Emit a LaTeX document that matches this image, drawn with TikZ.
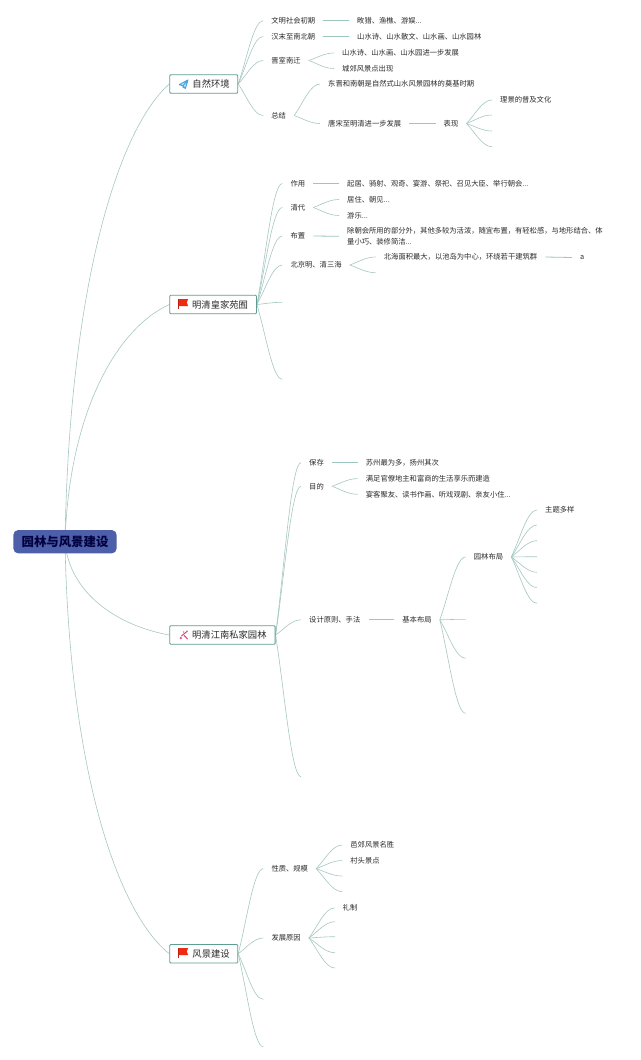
\documentclass[tikz,border=0pt]{standalone}
\usepackage{fontspec}
\setmainfont{Noto Sans CJK SC}
\usetikzlibrary{calc}
\pgfdeclarelayer{bg}\pgfdeclarelayer{lines}\pgfsetlayers{bg,lines,main}
\definecolor{linec}{HTML}{A6C8C2}
\definecolor{darkline}{HTML}{9CC6BE}
\definecolor{boxc}{HTML}{5F9E92}
\definecolor{txt}{HTML}{2B2B2B}
\definecolor{rootfill}{HTML}{4C5FA8}
\definecolor{flagred}{HTML}{EE2A12}
\definecolor{planeblue}{HTML}{45A5DC}
\definecolor{pinkc}{HTML}{E0457B}
\tikzset{
  x=1pt,y=-1pt,
  leaf/.style={anchor=west,inner xsep=8pt,inner ysep=1pt,text=txt,align=left,font=\fontsize{7.3}{10.7}\selectfont},
  topic/.style={anchor=west,draw=boxc,line width=0.9pt,fill=white,rounded corners=1pt,minimum height=18.5pt,inner ysep=0pt,inner xsep=0pt,text=txt,font=\fontsize{9.3}{11}\selectfont},
  rootbox/.style={fill=rootfill,rounded corners=5pt,minimum width=103.4pt,minimum height=23.4pt,inner sep=0pt,text=black!75!blue,font=\fontsize{12.4}{14}\selectfont\bfseries},
  branch/.style={to path={let \p1=(\tikztostart),\p2=(\tikztotarget) in .. controls ({\x1+0.35*(\x2-\x1)},{\y1+0.4*(\y2-\y1)}) and ({\x1+0.62*(\x2-\x1)},\y2) .. (\p2)}},
  rootbranch/.style={to path={let \p1=(\tikztostart),\p2=(\tikztotarget) in .. controls ({\x1+0.04*(\x2-\x1)},{\y1+0.55*(\y2-\y1)}) and ({\x1+0.5*(\x2-\x1)},{\y1+0.9*(\y2-\y1)}) .. (\p2)}},
  conn/.style={draw=linec,line width=0.6pt},
  flat/.style={draw=darkline,line width=0.8pt},
  flagicon/.pic={
    \fill[flagred] (0.6,0) -- (10,0) -- (8.6,3.4) -- (10,7.2) -- (0.6,7.2) -- cycle;
    \draw[flagred!80!black,line width=0.8pt] (0.3,0) -- (0.3,10);
  }
}
\begin{document}
\begin{tikzpicture}
\begin{pgfonlayer}{bg}
\fill[white] (0,0) rectangle (640,1060);
\end{pgfonlayer}
\useasboundingbox (0,0) rectangle (640,1060);

% root and topics
\node[rootbox] (root) at (65,541.7) {园林与风景建设};
\node[topic,minimum width=68pt,text width=68pt,align=left] (t1) at (169.3,84) {\hspace*{22.7pt}自然环境};
\node[topic,minimum width=86.7pt,text width=86.7pt,align=left] (t2) at (169.3,304.5) {\hspace*{22.4pt}明清皇家苑囿};
\node[topic,minimum width=105.4pt,text width=105.4pt,align=left] (t3) at (169.3,635) {\hspace*{22.4pt}明清江南私家园林};
\node[topic,minimum width=68pt,text width=68pt,align=left] (t4) at (169.3,953.7) {\hspace*{22.7pt}风景建设};

% icons
\draw[planeblue,fill=planeblue!25,line width=1pt,line join=round] (188,80) -- (179.3,84.6) -- (183,85.8) -- (185.3,88.5) -- cycle (188,80) -- (183,85.8) -- (183,88);
\pic at (178.2,299) {flagicon};
\pic at (178.2,948) {flagicon};
\draw[pinkc,line width=1pt,line cap=round] (181.5,636) -- (187.5,631);
\draw[pinkc,line width=1pt,line cap=round] (184.2,635.5) -- (187.5,639);
\fill[pinkc] (180.8,638) circle (1.2);
\fill[pinkc] (183.6,632) circle (0.7);

% natural environment
\node[leaf] (a1) at (263.2,20.7) {文明社会初期};
\node[leaf] (a1a) at (349,20.7) {畋猎、渔樵、游娱...};
\node[leaf] (a2) at (263.2,36.5) {汉末至南北朝};
\node[leaf] (a2a) at (349,36.5) {山水诗、山水散文、山水画、山水园林};
\node[leaf] (a3) at (263.2,60.5) {晋室南迁};
\node[leaf] (a3a) at (334,53) {山水诗、山水画、山水园进一步发展};
\node[leaf] (a3b) at (334,68.5) {城郊风景点出现};
\node[leaf] (a4) at (263.2,115.5) {总结};
\node[leaf] (a4a) at (320,84) {东晋和南朝是自然式山水风景园林的奠基时期};
\node[leaf] (a4b) at (320,123.5) {唐宋至明清进一步发展};
\node[leaf] (a4c) at (435.5,123.5) {表现};
\node[leaf] (a5a) at (492,100) {理景的普及文化};
\coordinate (a5b) at (492,115);
\coordinate (a5c) at (492,131);
\coordinate (a5d) at (492,146.7);

% imperial gardens
\node[leaf] (b1) at (282.3,183.5) {作用};
\node[leaf] (b1a) at (339,183.5) {起居、骑射、观奇、宴游、祭祀、召见大臣、举行朝会...};
\node[leaf] (b2) at (282.3,207.5) {清代};
\node[leaf] (b2a) at (339,199.5) {居住、朝见...};
\node[leaf] (b2b) at (339,215.5) {游乐...};
\node[leaf] (b3) at (282.3,236) {布置};
\node[leaf] (b3a) at (339,236.3) {除朝会所用的部分外，其他多较为活泼，随宜布置，有轻松感，与地形结合、体\\量小巧、装修简洁...};
\node[leaf] (b4) at (282.3,265) {北京明、清三海};
\node[leaf] (b4a) at (375.7,257) {北海面积最大，以池岛为中心，环绕若干建筑群};
\coordinate (b4b) at (375.7,272.7);
\node[leaf] (b4c) at (572,257.5) {a};
\coordinate (b5) at (282.3,302.3);
\coordinate (b6) at (282.3,379.3);

% private gardens
\node[leaf] (c1) at (301,462.6) {保存};
\node[leaf] (c1a) at (357.7,462.6) {苏州最为多，扬州其次};
\node[leaf] (c2) at (301,486.3) {目的};
\node[leaf] (c2a) at (357.7,478.6) {满足官僚地主和富商的生活享乐而建造};
\node[leaf] (c2b) at (357.7,494.3) {宴客聚友、读书作画、听戏观剧、亲友小住...};
\node[leaf] (c3) at (301,619.8) {设计原则、手法};
\node[leaf] (c3a) at (394.2,619.8) {基本布局};
\node[leaf] (c4) at (465.7,557) {园林布局};
\coordinate (c5) at (465.7,619.3);
\coordinate (c6) at (465.7,658.3);
\coordinate (c7) at (465.7,713.3);
\node[leaf] (c4a) at (537,510) {主题多样};
\coordinate (c4b) at (537,525);
\coordinate (c4c) at (537,540.7);
\coordinate (c4d) at (537,556.7);
\coordinate (c4e) at (537,572.3);
\coordinate (c4f) at (537,587.7);
\coordinate (c4g) at (537,603.3);
\coordinate (c8) at (301,776.7);

% scenery construction
\node[leaf] (d1) at (263.3,868.7) {性质、规模};
\node[leaf] (d1a) at (342.2,845) {邑郊风景名胜};
\node[leaf] (d1b) at (342.2,860.5) {村头景点};
\coordinate (d1c) at (342.2,876);
\coordinate (d1d) at (342.2,891.7);
\node[leaf] (d2) at (263.3,938) {发展原因};
\node[leaf] (d2a) at (334.5,908) {礼制};
\coordinate (d2b) at (335,921.7);
\coordinate (d2c) at (335,936.7);
\coordinate (d2d) at (335,952.7);
\coordinate (d2e) at (335,968);
\coordinate (d3) at (263.3,999.3);
\coordinate (d4) at (263.3,1046.7);

\begin{pgfonlayer}{lines}
% root to topics
\draw[conn] (root.center) to[rootbranch] (t1.west);
\draw[conn] (root.center) to[rootbranch] (t2.west);
\draw[conn] (root.center) to[rootbranch] (t3.west);
\draw[conn] (root.center) to[rootbranch] (t4.west);
% topic 1
\foreach \k in {a1,a2,a3,a4} \draw[conn] (t1.east) to[branch] (\k.west);
\draw[flat] (a1.east) -- (a1a.west);
\draw[flat] (a2.east) -- (a2a.west);
\draw[conn] (a3.east) to[branch] (a3a.west);
\draw[conn] (a3.east) to[branch] (a3b.west);
\draw[conn] (a4.east) to[branch] (a4a.west);
\draw[conn] (a4.east) to[branch] (a4b.west);
\draw[flat] (a4b.east) -- (a4c.west);
\draw[conn] (a4c.east) to[branch] (a5a.west);
\foreach \k in {a5b,a5c,a5d} \draw[conn] (a4c.east) to[branch] (\k);
% topic 2
\foreach \k in {b1,b2,b3,b4} \draw[conn] (t2.east) to[branch] (\k.west);
\draw[conn] (t2.east) to[branch] (b5);
\draw[conn] (t2.east) to[branch] (b6);
\draw[flat] (b1.east) -- (b1a.west);
\draw[conn] (b2.east) to[branch] (b2a.west);
\draw[conn] (b2.east) to[branch] (b2b.west);
\draw[flat] (b3.east) -- (b3a.west);
\draw[conn] (b4.east) to[branch] (b4a.west);
\draw[conn] (b4.east) to[branch] (b4b);
\draw[flat] (b4a.east) -- (b4c.west);
% topic 3
\foreach \k in {c1,c2,c3} \draw[conn] (t3.east) to[branch] (\k.west);
\draw[conn] (t3.east) to[branch] (c8);
\draw[flat] (c1.east) -- (c1a.west);
\draw[conn] (c2.east) to[branch] (c2a.west);
\draw[conn] (c2.east) to[branch] (c2b.west);
\draw[flat] (c3.east) -- (c3a.west);
\draw[conn] (c3a.east) to[branch] (c4.west);
\foreach \k in {c5,c6,c7} \draw[conn] (c3a.east) to[branch] (\k);
\draw[conn] (c4.east) to[branch] (c4a.west);
\foreach \k in {c4b,c4c,c4d,c4e,c4f,c4g} \draw[conn] (c4.east) to[branch] (\k);
% topic 4
\foreach \k in {d1,d2} \draw[conn] (t4.east) to[branch] (\k.west);
\draw[conn] (t4.east) to[branch] (d3);
\draw[conn] (t4.east) to[branch] (d4);
\draw[conn] (d1.east) to[branch] (d1a.west);
\draw[conn] (d1.east) to[branch] (d1b.west);
\draw[conn] (d1.east) to[branch] (d1c);
\draw[conn] (d1.east) to[branch] (d1d);
\draw[conn] (d2.east) to[branch] (d2a.west);
\foreach \k in {d2b,d2c,d2d,d2e} \draw[conn] (d2.east) to[branch] (\k);
\end{pgfonlayer}
\end{tikzpicture}
\end{document}
